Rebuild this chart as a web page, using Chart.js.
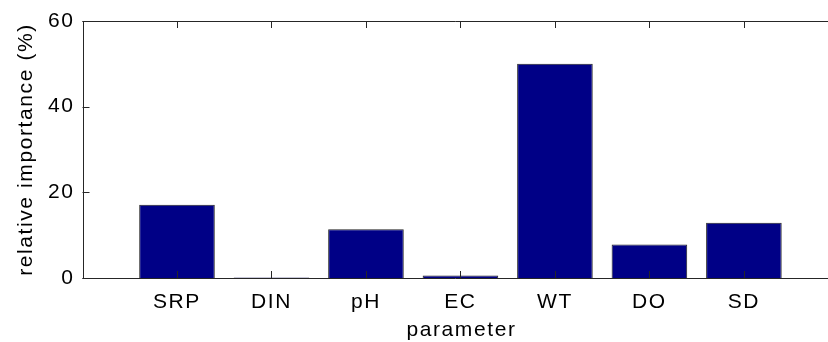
<!DOCTYPE html>
<html>
<head>
<meta charset="utf-8">
<script src="https://cdn.jsdelivr.net/npm/chart.js@4/dist/chart.umd.min.js"></script>
<style>
html,body{margin:0;padding:0;background:#fff;overflow:hidden;width:828px;height:342px;}
canvas{display:block;}
</style>
</head>
<body>
<canvas id="c" width="828" height="342"></canvas>
<script>
const categories = ['SRP', 'DIN', 'pH', 'EC', 'WT', 'DO', 'SD'];
const importance = [17.1, 0.1, 11.4, 0.6, 50.0, 7.8, 12.9];
const yTicks = [0, 20, 40, 60];
const xRange = [0, 7.89];   // visible part of the x axis [0, 8] (the right end is cropped)
const xLabelCenter = 4;     // x label is centred on the full axis range [0, 8]
const xTitle = 'parameter';
const yTitle = 'relative importance (%)';

const points = categories.map((c, i) => ({x: i + 1, y: importance[i]}));

const FONT = '"Liberation Sans", Arial, sans-serif';
const AXIS = '#262626';
const LS = '1.6px';

const spacingPlugin = {
  id: 'spacing',
  beforeLayout(chart) { chart.ctx.letterSpacing = LS; },
  beforeDraw(chart) { chart.ctx.letterSpacing = LS; }
};

const framePlugin = {
  id: 'frame',
  afterDatasetsDraw(chart) {
    const {ctx, chartArea: a, scales} = chart;
    ctx.save();
    ctx.strokeStyle = AXIS;
    ctx.lineWidth = 1;
    ctx.beginPath();
    ctx.moveTo(Math.round(a.left) + 0.5, a.top);
    ctx.lineTo(Math.round(a.left) + 0.5, a.bottom + 1);
    ctx.moveTo(a.left, Math.round(a.top) + 0.5);
    ctx.lineTo(a.right, Math.round(a.top) + 0.5);
    ctx.moveTo(a.left, Math.round(a.bottom) + 0.5);
    ctx.lineTo(a.right, Math.round(a.bottom) + 0.5);
    const tl = 7;
    const x = scales.x;
    points.forEach(p => {
      const px = Math.round(x.getPixelForValue(p.x)) + 0.5;
      ctx.moveTo(px, a.top);
      ctx.lineTo(px, a.top + tl);
      ctx.moveTo(px, a.bottom);
      ctx.lineTo(px, a.bottom - tl);
    });
    const y = scales.y;
    yTicks.forEach(v => {
      const py = Math.round(y.getPixelForValue(v)) + 0.5;
      ctx.moveTo(a.left, py);
      ctx.lineTo(a.left + tl, py);
    });
    ctx.stroke();
    // x axis title, centred on the middle of the full axis range
    ctx.letterSpacing = LS;
    ctx.fillStyle = '#000';
    ctx.font = '21px ' + FONT;
    ctx.textAlign = 'center';
    ctx.textBaseline = 'alphabetic';
    ctx.fillText(xTitle, x.getPixelForValue(xLabelCenter) + 1, 335.5);
    ctx.restore();
  }
};

new Chart(document.getElementById('c'), {
  type: 'bar',
  data: {
    datasets: [{
      data: points,
      backgroundColor: '#000086',
      borderColor: '#222222',
      borderWidth: 1,
      borderSkipped: 'start',
      barPercentage: 0.8,
      categoryPercentage: 1.0
    }]
  },
  options: {
    responsive: false,
    maintainAspectRatio: false,
    animation: false,
    devicePixelRatio: 1,
    layout: {padding: {top: 21, right: 0, left: 0, bottom: 0}},
    plugins: {legend: {display: false}, tooltip: {enabled: false}},
    scales: {
      x: {
        type: 'linear',
        min: xRange[0], max: xRange[1],
        offset: false,
        grid: {display: false, drawTicks: false, offset: false},
        border: {display: false},
        afterBuildTicks(s) { s.ticks = points.map(p => ({value: p.x})); },
        ticks: {
          autoSkip: false, maxRotation: 0, minRotation: 0,
          padding: 12, color: '#000',
          font: {family: FONT, size: 21},
          callback: (v) => categories[v - 1]
        },
        title: {display: false},
        afterFit(s) { s.height = 64; }
      },
      y: {
        min: 0, max: 60,
        grid: {display: false, drawTicks: false},
        border: {display: false},
        afterBuildTicks(s) { s.ticks = yTicks.map(v => ({value: v})); },
        ticks: {
          padding: 8, color: '#000',
          font: {family: FONT, size: 21}
        },
        title: {
          display: true, text: yTitle, color: '#000',
          font: {family: FONT, size: 21},
          padding: {top: 14, bottom: 0}
        },
        afterFit(s) { s.width = 82.5; }
      }
    }
  },
  plugins: [spacingPlugin, framePlugin]
});
</script>
</body>
</html>
